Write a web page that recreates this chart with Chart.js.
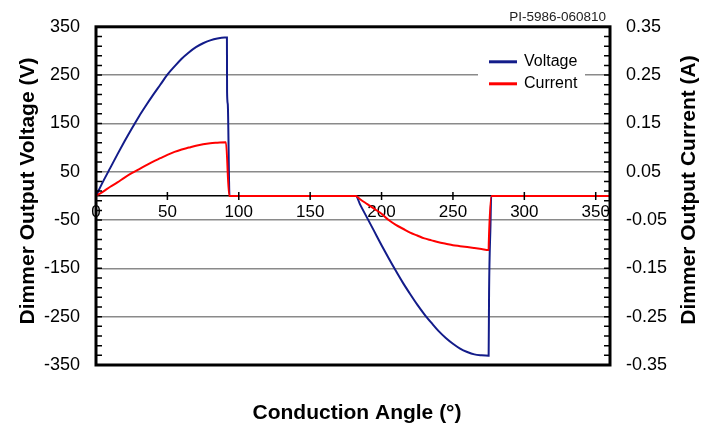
<!DOCTYPE html>
<html>
<head>
<meta charset="utf-8">
<script src="https://cdn.jsdelivr.net/npm/chart.js@4.4.0/dist/chart.umd.min.js"></script>
<style>
  body { margin: 0; background: #fff; }
  #wrap { width: 715px; height: 426px; position: relative; }
</style>
</head>
<body>
<div id="wrap"><canvas id="dimmer-chart"></canvas></div>
<script>
// values
var voltageAngles = [0, 5, 10, 15, 20, 25, 30, 35, 40, 45, 50, 55, 60, 65, 70, 75, 80, 85, 90, 91.7, 91.8, 92.3, 93.5,
                     182, 185, 190, 195, 200, 205, 210, 215, 220, 225, 230, 235, 240, 245, 250, 255, 260, 265, 270, 275, 275.3, 276.3, 276.8, 360];
var voltage = [0, 30, 58, 86, 113, 139, 164, 187, 209, 230, 251, 268, 284, 297, 308, 316, 322, 326, 328, 328, 215, 190, 0,
               0, -18, -46, -74, -102, -129, -155, -180, -203, -225, -245, -263, -280, -294, -306, -316, -323, -328, -330, -331, -200, -60, 0, 0];

var currentAngles = [0, 5, 10, 15, 20, 25, 30, 35, 40, 45, 50, 55, 60, 65, 70, 75, 80, 85, 91, 93.3,
                     182, 185, 190, 195, 200, 205, 210, 215, 220, 225, 230, 235, 240, 245, 250, 255, 260, 265, 270, 275, 275.1, 277, 360];
var current = [0, 0.009, 0.019, 0.028, 0.038, 0.047, 0.055, 0.063, 0.071, 0.078, 0.085, 0.091, 0.096, 0.100, 0.104, 0.107, 0.109, 0.110, 0.111, 0,
               0, -0.007, -0.017, -0.027, -0.037, -0.050, -0.060, -0.068, -0.076, -0.082, -0.088, -0.092, -0.096, -0.099, -0.102, -0.104, -0.106, -0.108, -0.110, -0.112, -0.097, 0, 0];

var angleTicks = [0, 50, 100, 150, 200, 250, 300, 350];
var seriesNames = ['Voltage', 'Current'];
var seriesColors = ['#131c8a', '#ff0000'];
var chartTag = 'PI-5986-060810';

var FONT = "'Liberation Sans', Arial, Helvetica, sans-serif";

function toPoints(xs, ys) {
  var pts = [];
  for (var i = 0; i < xs.length; i++) pts.push({ x: xs[i], y: ys[i] });
  return pts;
}

var decorations = {
  id: 'decorations',
  afterDraw: function (chart) {
    var ctx = chart.ctx, a = chart.chartArea;
    var ys = chart.scales.y, ys2 = chart.scales.y2, xs = chart.scales.x;
    ctx.save();

    // minor ticks, inward
    ctx.strokeStyle = '#000';
    ctx.lineWidth = 1.5;
    ctx.beginPath();
    for (var v = -350; v <= 350; v += 20) {
      var py = ys.getPixelForValue(v);
      ctx.moveTo(a.left, py); ctx.lineTo(a.left + 6, py);
    }
    for (var k = 0; k <= 35; k++) {
      var py2 = ys2.getPixelForValue(-0.35 + k * 0.02);
      ctx.moveTo(a.right, py2); ctx.lineTo(a.right - 6, py2);
    }
    // crossing ticks on the zero axis
    var y0 = ys.getPixelForValue(0);
    angleTicks.forEach(function (t) {
      if (t === 0) return;
      var px = xs.getPixelForValue(t);
      ctx.moveTo(px, y0 - 4); ctx.lineTo(px, y0 + 4);
    });
    ctx.stroke();

    // frame
    ctx.lineWidth = 3;
    ctx.strokeRect(a.left, a.top, a.right - a.left, a.bottom - a.top);

    // legend
    var lx = a.right - 132, ly = a.top + 23;
    ctx.fillStyle = '#fff';
    ctx.fillRect(lx, ly, 107, 48);
    ctx.font = '16px ' + FONT;
    ctx.textBaseline = 'middle';
    ctx.textAlign = 'left';
    for (var i = 0; i < seriesNames.length; i++) {
      var ry = ly + 12 + i * 22;
      ctx.strokeStyle = seriesColors[i];
      ctx.lineWidth = 3;
      ctx.beginPath();
      ctx.moveTo(lx + 11, ry); ctx.lineTo(lx + 39, ry);
      ctx.stroke();
      ctx.fillStyle = '#000';
      ctx.fillText(seriesNames[i], lx + 46, ry);
    }

    // tag top right
    ctx.font = '13.5px ' + FONT;
    ctx.fillStyle = '#222';
    ctx.textAlign = 'right';
    ctx.fillText(chartTag, a.right - 4, a.top - 10);

    // x title
    ctx.font = 'bold 21px ' + FONT;
    ctx.fillStyle = '#000';
    ctx.textAlign = 'center';
    ctx.fillText('Conduction Angle (°)', (a.left + a.right) / 2 + 4, 413);

    // side titles, both reading bottom to top
    ctx.save();
    ctx.translate(28, 191);
    ctx.rotate(-Math.PI / 2);
    ctx.fillText('Dimmer Output Voltage (V)', 0, 0);
    ctx.restore();

    ctx.translate(689, 190);
    ctx.rotate(-Math.PI / 2);
    ctx.fillText('Dimmer Output Current (A)', 0, 0);

    ctx.restore();
  }
};

var ctx = document.getElementById('dimmer-chart').getContext('2d');
new Chart(ctx, {
  type: 'line',
  data: {
    datasets: [
      {
        label: seriesNames[0],
        data: toPoints(voltageAngles, voltage),
        yAxisID: 'y',
        borderColor: seriesColors[0],
        borderWidth: 2,
        pointRadius: 0,
        cubicInterpolationMode: 'monotone',
        order: 2
      },
      {
        label: seriesNames[1],
        data: toPoints(currentAngles, current),
        yAxisID: 'y2',
        borderColor: seriesColors[1],
        borderWidth: 2,
        pointRadius: 0,
        cubicInterpolationMode: 'monotone',
        order: 1
      }
    ]
  },
  options: {
    responsive: true,
    maintainAspectRatio: false,
    animation: false,
    layout: { padding: { top: 23, bottom: 61, left: 0, right: 0 } },
    plugins: {
      legend: { display: false },
      tooltip: { enabled: false }
    },
    scales: {
      x: {
        type: 'linear',
        position: { y: 0 },
        min: 0,
        max: 360,
        ticks: {
          stepSize: 50,
          includeBounds: false,
          color: '#000',
          padding: 6,
          maxRotation: 0,
          font: { family: FONT, size: 17 }
        },
        grid: { drawOnChartArea: false, drawTicks: false },
        border: { display: true, color: '#000', width: 1.5 }
      },
      y: {
        position: 'left',
        min: -350,
        max: 350,
        afterFit: function (s) { s.width = 96; },
        ticks: {
          stepSize: 100,
          color: '#000',
          padding: 16,
          font: { family: FONT, size: 18 }
        },
        grid: {
          drawTicks: false,
          lineWidth: 1.5,
          color: function (c) {
            return (c.tick && Math.abs(c.tick.value) === 350) ? 'rgba(0,0,0,0)' : '#8a8a8a';
          }
        },
        border: { display: false }
      },
      y2: {
        position: 'right',
        min: -0.35,
        max: 0.35,
        afterFit: function (s) { s.width = 105; },
        ticks: {
          stepSize: 0.1,
          color: '#000',
          padding: 16,
          font: { family: FONT, size: 18 },
          callback: function (v) { return v.toFixed(2); }
        },
        grid: { drawOnChartArea: false, drawTicks: false },
        border: { display: false }
      }
    }
  },
  plugins: [decorations]
});
</script>
</body>
</html>
